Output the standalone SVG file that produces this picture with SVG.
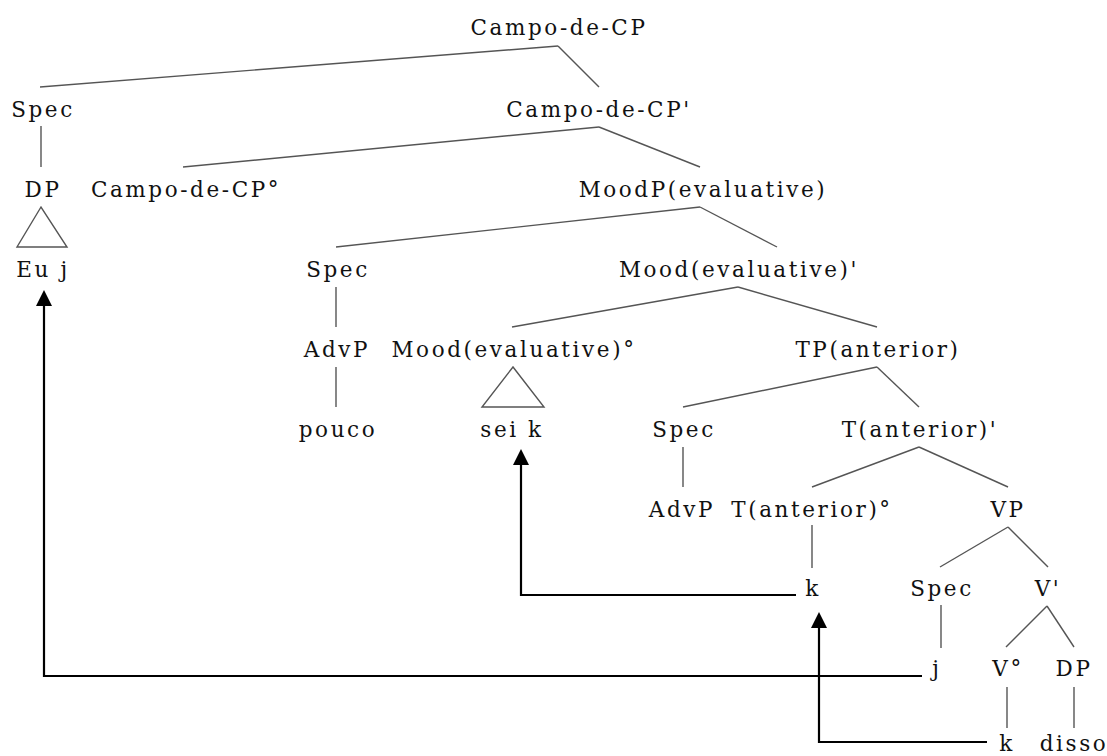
<svg xmlns="http://www.w3.org/2000/svg" width="1107" height="756" viewBox="0 0 1107 756">
  <style>
    .lbl { font-family: "DejaVu Serif", serif; font-size: 21.5px; letter-spacing: 2.6px; fill: #111; text-anchor: middle; }
    .edge { stroke: #555; stroke-width: 1.4; fill: none; }
    .tri { stroke: #555; stroke-width: 1.4; fill: none; }
    .move { stroke: #000; stroke-width: 2.2; fill: none; marker-end: url(#head); }
  </style>
  <defs>
    <marker id="head" viewBox="0 0 16 16" markerWidth="16" markerHeight="16" refX="12" refY="8" orient="auto" markerUnits="userSpaceOnUse">
      <path d="M0,0 L16,8 L0,16 z" fill="#000"/>
    </marker>
  </defs>
  <rect width="1107" height="756" fill="#fff"/>

  <!-- tree branches -->
  <g id="branches">
    <line class="edge" x1="558" y1="46" x2="40" y2="87"/>
    <line class="edge" x1="558" y1="46" x2="599" y2="87"/>
    <line class="edge" x1="41" y1="126" x2="41" y2="167"/>
    <line class="edge" x1="599" y1="127" x2="183" y2="167"/>
    <line class="edge" x1="599" y1="127" x2="700" y2="167"/>
    <line class="edge" x1="700" y1="207" x2="336" y2="247"/>
    <line class="edge" x1="700" y1="207" x2="777" y2="247"/>
    <line class="edge" x1="336" y1="287" x2="336" y2="327"/>
    <line class="edge" x1="738" y1="287" x2="512" y2="327"/>
    <line class="edge" x1="738" y1="287" x2="877" y2="327"/>
    <line class="edge" x1="336" y1="367" x2="336" y2="407"/>
    <line class="edge" x1="877" y1="367" x2="683" y2="407"/>
    <line class="edge" x1="877" y1="367" x2="919" y2="407"/>
    <line class="edge" x1="683" y1="447" x2="683" y2="487"/>
    <line class="edge" x1="919" y1="447" x2="812" y2="487"/>
    <line class="edge" x1="919" y1="447" x2="1008" y2="487"/>
    <line class="edge" x1="812" y1="525" x2="812" y2="568"/>
    <line class="edge" x1="1008" y1="527" x2="940" y2="567"/>
    <line class="edge" x1="1008" y1="527" x2="1048" y2="567"/>
    <line class="edge" x1="941" y1="605" x2="941" y2="648"/>
    <line class="edge" x1="1047" y1="606" x2="1006" y2="647"/>
    <line class="edge" x1="1047" y1="606" x2="1074" y2="647"/>
    <line class="edge" x1="1007" y1="687" x2="1007" y2="728"/>
    <line class="edge" x1="1074" y1="687" x2="1074" y2="728"/>
    <!-- collapsed constituents -->
    <polygon class="tri" points="41,207 17,247 67,247"/>
    <polygon class="tri" points="513,367 482,407 544,407"/>
  </g>

  <!-- movement arrows -->
  <g id="movements">
    <path class="move" d="M922,676 H44 V294"/>
    <path class="move" d="M796,595 H521 V453"/>
    <path class="move" d="M987,742 H819 V616"/>
  </g>

  <!-- nodes -->
  <g id="n-campo-cp"><text class="lbl" x="559" y="35">Campo-de-CP</text></g>
  <g id="n-spec-1"><text class="lbl" x="43" y="117">Spec</text></g>
  <g id="n-campo-cp-bar"><text class="lbl" x="599" y="117">Campo-de-CP'</text></g>
  <g id="n-dp-1"><text class="lbl" x="43" y="197">DP</text></g>
  <g id="n-campo-cp-head"><text class="lbl" x="186" y="197">Campo-de-CP°</text></g>
  <g id="n-moodp"><text class="lbl" x="703" y="197">MoodP(evaluative)</text></g>
  <g id="n-eu-j"><text class="lbl" x="43" y="277">Eu j</text></g>
  <g id="n-spec-2"><text class="lbl" x="338" y="277">Spec</text></g>
  <g id="n-mood-bar"><text class="lbl" x="739" y="277">Mood(evaluative)'</text></g>
  <g id="n-advp-1"><text class="lbl" x="337" y="357">AdvP</text></g>
  <g id="n-mood-head"><text class="lbl" x="514" y="357">Mood(evaluative)°</text></g>
  <g id="n-tp"><text class="lbl" x="878" y="357">TP(anterior)</text></g>
  <g id="n-pouco"><text class="lbl" x="338" y="437">pouco</text></g>
  <g id="n-sei-k"><text class="lbl" x="512" y="437">sei k</text></g>
  <g id="n-spec-3"><text class="lbl" x="684" y="437">Spec</text></g>
  <g id="n-t-bar"><text class="lbl" x="920" y="437">T(anterior)'</text></g>
  <g id="n-advp-2"><text class="lbl" x="682" y="517">AdvP</text></g>
  <g id="n-t-head"><text class="lbl" x="812" y="517">T(anterior)°</text></g>
  <g id="n-vp"><text class="lbl" x="1008" y="517">VP</text></g>
  <g id="n-k-1"><text class="lbl" x="813" y="596">k</text></g>
  <g id="n-spec-4"><text class="lbl" x="942" y="596">Spec</text></g>
  <g id="n-v-bar"><text class="lbl" x="1048" y="596">V'</text></g>
  <g id="n-j"><text class="lbl" x="937" y="676">j</text></g>
  <g id="n-v-head"><text class="lbl" x="1008" y="676">V°</text></g>
  <g id="n-dp-2"><text class="lbl" x="1074" y="676">DP</text></g>
  <g id="n-k-2"><text class="lbl" x="1007" y="751">k</text></g>
  <g id="n-disso"><text class="lbl" x="1074" y="751">disso</text></g>
</svg>
